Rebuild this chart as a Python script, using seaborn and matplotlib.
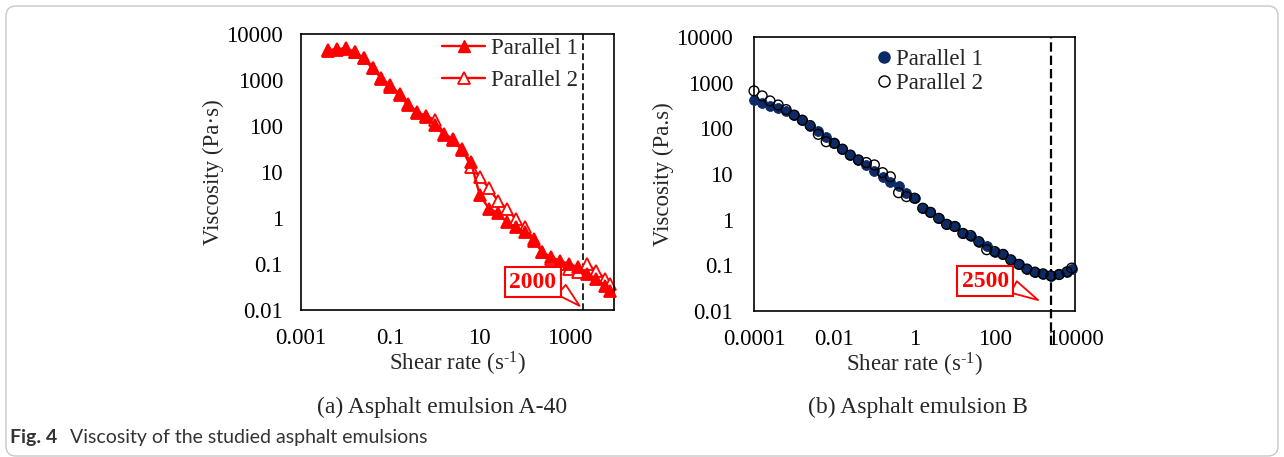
import matplotlib
matplotlib.use("Agg")
import matplotlib.pyplot as plt
import seaborn as sns
import pandas as pd
from matplotlib.ticker import FixedLocator, LogLocator, FuncFormatter, NullFormatter
from matplotlib.patches import FancyBboxPatch
from matplotlib.lines import Line2D
from matplotlib.transforms import IdentityTransform

# ---------------- data ----------------
# (a) Asphalt emulsion A-40
shear_a = [0.004, 0.0063, 0.01, 0.016, 0.025, 0.04, 0.063, 0.1, 0.16, 0.25, 0.4, 0.63,
           1, 1.6, 2.5, 4, 6.3, 10, 16, 25, 40, 63, 100, 160, 250, 400, 630,
           1000, 1600, 2500, 4000, 6300, 8300]
visc_a1 = [4470, 4680, 4900, 4070, 2950, 1780, 1070, 710, 470, 280, 195, 158,
           105, 63, 49, 30, 16.6, 3.1, 1.6, 1.3, 0.81, 0.63, 0.49, 0.32, 0.18, 0.14, 0.117,
           0.10, 0.085, 0.062, 0.048, 0.034, 0.026]
visc_a2 = [4300, 4600, 4700, 4000, 3000, 1850, 1100, 760, 500, 300, 200, 165,
           135, 68, 52, 32, 12.9, 7.8, 4.4, 2.4, 1.6, 0.95, 0.63, 0.35, 0.18, 0.13, 0.10,
           0.079, 0.066, 0.098, 0.072, 0.048, 0.037]

# (b) Asphalt emulsion B
shear_b = [1e-4, 1.6e-4, 2.5e-4, 4e-4, 6.3e-4,
           1e-3, 1.6e-3, 2.5e-3, 4e-3, 6.3e-3,
           0.01, 0.016, 0.025, 0.04, 0.063,
           0.1, 0.16, 0.25, 0.4, 0.63,
           1, 1.6, 2.5, 4, 6.3,
           10, 16, 25, 40, 63,
           100, 160, 250, 400, 630,
           1000, 1600, 2500, 4000, 6300, 8300]
visc_b1 = [417, 355, 309, 275, 245, 195, 151, 115, 87, 66, 47, 35, 26, 20.4, 15.8,
           11.7, 8.7, 6.8, 5.4, 3.8, 2.95, 1.78, 1.45, 1.07, 0.79, 0.71, 0.52, 0.45,
           0.33, 0.27, 0.20, 0.174, 0.132, 0.105, 0.083, 0.071, 0.065, 0.059, 0.063,
           0.071, 0.083]
visc_b2 = [660, 513, 398, 324, 257, 195, 151, 115, 74, 51, 47, 35, 26, 20.4, 17.8,
           15.8, 10.7, 8.7, 3.9, 3.2, 2.95, 1.78, 1.45, 1.07, 0.79, 0.71, 0.50, 0.45,
           0.33, 0.22, 0.20, 0.174, 0.132, 0.105, 0.083, 0.071, 0.065, 0.059, 0.063,
           0.072, 0.087]

legend_labels = ["Parallel 1", "Parallel 2"]
xticks_a = [0.001, 0.1, 10, 1000]
xticks_b = [0.0001, 0.01, 1, 100, 10000]
yticks = [0.01, 0.1, 1, 10, 100, 1000, 10000]
cut_a, cut_b = 2000, 2500

RED = "#ff0000"
NAVY = "#0b2a66"

sns.set_style("white")
plt.rcParams["font.family"] = ["Liberation Serif", "DejaVu Serif"]
plt.rcParams["mathtext.fontset"] = "custom"
plt.rcParams["mathtext.rm"] = "Liberation Serif"
plt.rcParams["mathtext.it"] = "Liberation Serif:italic"

FS = 16.5
fig = plt.figure(figsize=(12.84, 4.57), dpi=100)
W, H = 1284, 457
axA = fig.add_axes([301 / W, (H - 310) / H, 313 / W, 276 / H])
axB = fig.add_axes([754 / W, (H - 311) / H, 321 / W, 274 / H])

dfA = pd.DataFrame({"shear": shear_a, "p1": visc_a1, "p2": visc_a2})
dfB = pd.DataFrame({"shear": shear_b, "p1": visc_b1, "p2": visc_b2})

# ----- (a) -----
sns.lineplot(data=dfA, x="shear", y="p2", ax=axA, color=RED, lw=1.7, marker="^",
             markersize=8.5, markerfacecolor="white", markeredgecolor=RED,
             markeredgewidth=1.3, estimator=None, sort=False, zorder=2, clip_on=False)
sns.lineplot(data=dfA, x="shear", y="p1", ax=axA, color=RED, lw=1.7, marker="^",
             markersize=8.5, markerfacecolor=RED, markeredgecolor=RED,
             markeredgewidth=1.3, estimator=None, sort=False, zorder=3, clip_on=False)
axA.axvline(cut_a, color="black", lw=1.2, dashes=(4, 2), zorder=1)

# ----- (b) -----
sns.scatterplot(data=dfB, x="shear", y="p1", ax=axB, color=NAVY, s=50,
                edgecolor=NAVY, linewidth=0.6, zorder=3, clip_on=False)
sns.scatterplot(data=dfB, x="shear", y="p2", ax=axB, color="black", s=50,
                linewidth=1.0, zorder=4, clip_on=False)
coll = axB.collections[-1]
coll.set_facecolor("none")
coll.set_edgecolor("black")
axB.axvline(cut_b, ymin=-0.124, ymax=1, color="black", lw=1.6, dashes=(4.2, 1.8),
            zorder=1, clip_on=False)

fmt = FuncFormatter(lambda v, p: "{:g}".format(v))
for ax, xt, xl in [(axA, xticks_a, (0.001, 10000)), (axB, xticks_b, (0.0001, 10000))]:
    ax.set_xscale("log")
    ax.set_yscale("log")
    ax.set_xlim(*xl)
    ax.set_ylim(0.01, 10000)
    ax.xaxis.set_major_locator(FixedLocator(xt))
    ax.xaxis.set_minor_locator(FixedLocator([m / 10 * k for m in xt for k in range(1, 10)]))
    ax.xaxis.set_major_formatter(fmt)
    ax.xaxis.set_minor_formatter(NullFormatter())
    ax.yaxis.set_major_locator(FixedLocator(yticks))
    ax.yaxis.set_minor_locator(LogLocator(base=10, subs=range(2, 10), numticks=20))
    ax.yaxis.set_major_formatter(fmt)
    ax.yaxis.set_minor_formatter(NullFormatter())
    ax.tick_params(which="both", direction="in", top=False, right=False,
                   labelsize=FS, colors="black")
    ax.tick_params(which="major", length=5, width=1)
    ax.tick_params(which="minor", length=3, width=0.8)
    ax.tick_params(axis="x", which="major", pad=13)
    for s in ax.spines.values():
        s.set_visible(True)
        s.set_color("black")
        s.set_linewidth(1.2)
    ax.set_xlabel("Shear rate (s$^{\\text{-1}}$)", fontsize=FS)
    ax.xaxis.set_label_coords(0.5, -0.145)
axA.tick_params(axis="y", which="major", pad=13)
axB.tick_params(axis="y", which="major", pad=15)
axA.set_ylabel("Viscosity (Pa\u00b7s)", fontsize=FS)
axB.set_ylabel("Viscosity (Pa.s)", fontsize=FS)
axA.yaxis.set_label_coords(-0.246, 0.5)
axB.yaxis.set_label_coords(-0.249, 0.5)

# legends
hA = [Line2D([], [], color=RED, lw=1.7, marker="^", markersize=8.5, markerfacecolor=RED,
             markeredgecolor=RED),
      Line2D([], [], color=RED, lw=1.7, marker="^", markersize=8.5, markerfacecolor="white",
             markeredgecolor=RED, markeredgewidth=1.3)]
axA.legend(hA, legend_labels, loc="upper left", bbox_to_anchor=(0.45, 0.985), frameon=False,
           fontsize=FS, borderpad=0, borderaxespad=0, handlelength=1.9, handletextpad=0.25,
           labelspacing=0.47)
hB = [Line2D([], [], ls="", marker="o", markersize=8, markerfacecolor=NAVY, markeredgecolor=NAVY),
      Line2D([], [], ls="", marker="o", markersize=8, markerfacecolor="none",
             markeredgecolor="black", markeredgewidth=1.0)]
axB.legend(hB, legend_labels, loc="upper left", bbox_to_anchor=(0.383, 0.957), frameon=False,
           fontsize=FS, borderpad=0, borderaxespad=0, handlelength=0.6, handletextpad=0.25,
           labelspacing=0.13)

# callouts
for ax, txt, xy, xyt in [(axA, str(cut_a), (0.89, 0.015), (0.741, 0.101)),
                         (axB, str(cut_b), (0.885, 0.04), (0.72, 0.109))]:
    ax.annotate(txt, xy=xy, xycoords="axes fraction", xytext=xyt, textcoords="axes fraction",
                ha="center", va="center", fontsize=17, fontweight="bold", color=RED,
                bbox=dict(boxstyle="square,pad=0.18", fc="white", ec=RED, lw=1.5),
                arrowprops=dict(arrowstyle="wedge,tail_width=0.55", fc="white", ec=RED,
                                lw=1.3, relpos=(1.0, 0.35), shrinkA=0, shrinkB=0),
                zorder=6)

# sub-captions
fig.text(442 / W, 1 - 407 / H, "(a) Asphalt emulsion A-40", ha="center", va="center",
         fontsize=17)
fig.text(918 / W, 1 - 407 / H, "(b) Asphalt emulsion B", ha="center", va="center",
         fontsize=17)

# figure caption
fig.text(10 / W, 1 - 438 / H, "Fig. 4", ha="left", va="center", fontsize=14,
         fontweight="bold", color="#333333", family=["Lato", "DejaVu Sans"])
fig.text(70 / W, 1 - 438 / H, "Viscosity of the studied asphalt emulsions", ha="left",
         va="center", fontsize=14, color="#333333", family=["Lato", "DejaVu Sans"])

# outer rounded border (pixel coordinates)
border = FancyBboxPatch((6, 1), 1272, 450, boxstyle="round,pad=0,rounding_size=10",
                        transform=IdentityTransform(), fill=False, ec="#c8c8c8", lw=1.0)
fig.patches.append(border)

fig.savefig("out.png", dpi=100)
